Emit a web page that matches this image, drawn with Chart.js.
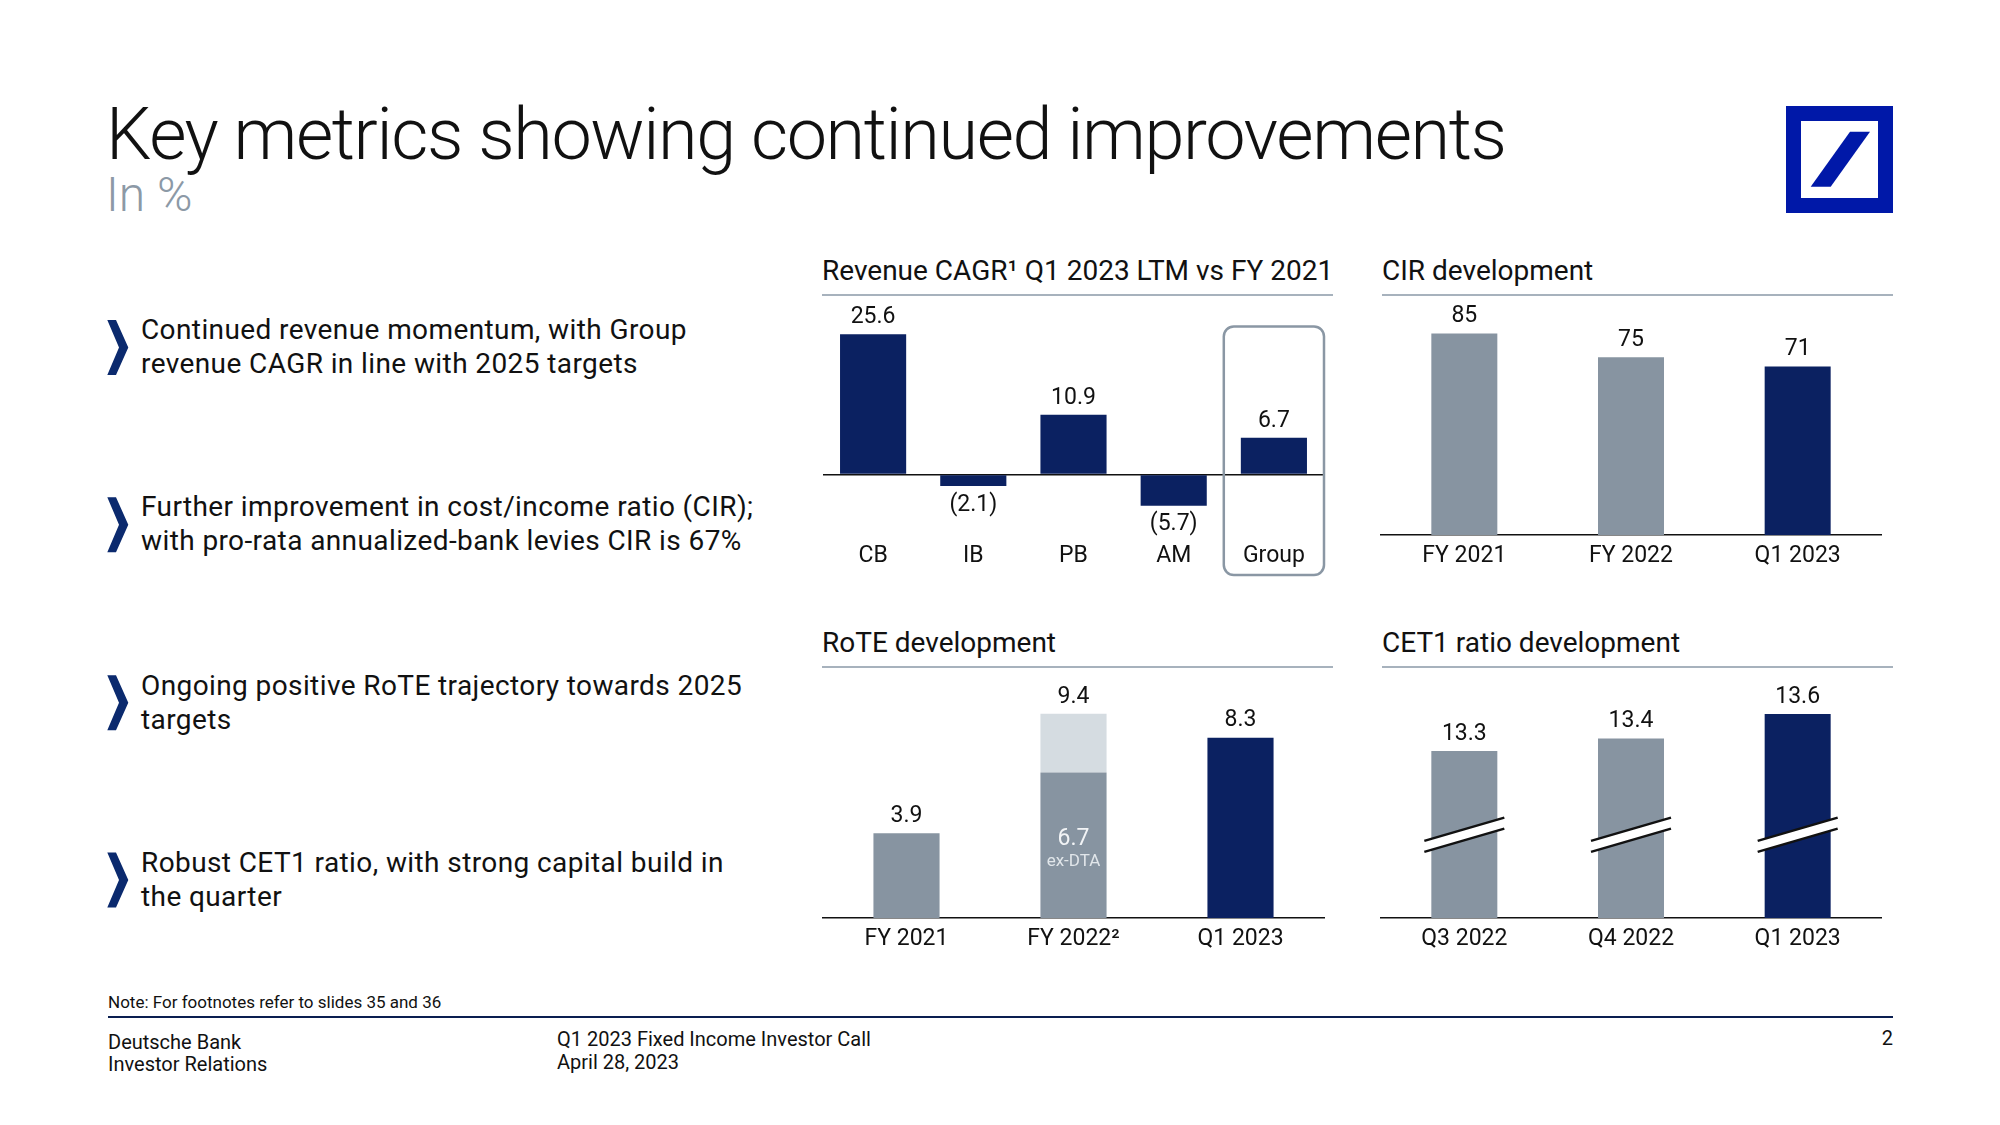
<!DOCTYPE html>
<html>
<head>
<meta charset="utf-8">
<script src="https://cdn.jsdelivr.net/npm/chart.js@4.4.0/dist/chart.umd.min.js"></script>
<style>
  body { margin: 0; background: #fff; }
  #page { position: relative; width: 2000px; height: 1125px; overflow: hidden; font-family: Roboto, "Noto Sans", sans-serif; color: #111; }
  .t { position: absolute; white-space: nowrap; }
  .bullet { font-size: 28px; line-height: 34.4px; letter-spacing: 0.4px; }
  .ctitle { font-size: 28px; line-height: 28px; }
  .rule { position: absolute; height: 2px; background: #a7b2bd; }
  .foot { font-size: 20px; line-height: 20px; }
  canvas { position: absolute; }
</style>
</head>
<body>
<div id="page">
  <div class="t" style="left:106px;top:99px;font-size:72px;line-height:72px;font-weight:300;letter-spacing:-1.4px">Key metrics showing continued improvements</div>
  <div class="t" style="left:106px;top:171px;font-size:48px;line-height:48px;font-weight:300;color:#8c99a6">In %</div>

  <div style="position:absolute;left:1786px;top:106px;width:107px;height:107px;box-sizing:border-box;border:15px solid #0018a8"></div>

  <svg style="position:absolute;left:0;top:0" width="2000" height="1125">
    <polygon points="1850,131.7 1870,131.7 1830.7,186.7 1810.7,186.7" fill="#0018a8"/>
    <g fill="#0b2a6e">
      <polygon transform="translate(0,0)" points="107.3,320 116,320 128.3,347.6 116,375 107.3,375 119,347.6"/>
      <polygon transform="translate(0,177.2)" points="107.3,320 116,320 128.3,347.6 116,375 107.3,375 119,347.6"/>
      <polygon transform="translate(0,355.2)" points="107.3,320 116,320 128.3,347.6 116,375 107.3,375 119,347.6"/>
      <polygon transform="translate(0,532.5)" points="107.3,320 116,320 128.3,347.6 116,375 107.3,375 119,347.6"/>
    </g>
  </svg>

  <div class="t bullet" style="left:141px;top:313px">Continued revenue momentum, with Group<br>revenue CAGR in line with 2025 targets</div>
  <div class="t bullet" style="left:141px;top:490px">Further improvement in cost/income ratio (CIR);<br>with pro-rata annualized-bank levies CIR is 67%</div>
  <div class="t bullet" style="left:141px;top:669px">Ongoing positive RoTE trajectory towards 2025<br>targets</div>
  <div class="t bullet" style="left:141px;top:846px">Robust CET1 ratio, with strong capital build in<br>the quarter</div>

  <div class="t ctitle" style="left:822px;top:257px">Revenue CAGR¹ Q1 2023 LTM vs FY 2021</div>
  <div class="rule" style="left:822px;top:294px;width:511px"></div>
  <div class="t ctitle" style="left:1382px;top:257px">CIR development</div>
  <div class="rule" style="left:1382px;top:294px;width:511px"></div>
  <div class="t ctitle" style="left:822px;top:629px">RoTE development</div>
  <div class="rule" style="left:822px;top:666px;width:511px"></div>
  <div class="t ctitle" style="left:1382px;top:629px">CET1 ratio development</div>
  <div class="rule" style="left:1382px;top:666px;width:511px"></div>

  <canvas id="revenue" width="509" height="293" style="left:818.7px;top:292px"></canvas>
  <canvas id="cir" width="508" height="293" style="left:1377.4px;top:292px"></canvas>
  <canvas id="rote" width="509" height="292" style="left:818.7px;top:676px"></canvas>
  <canvas id="cet1" width="508" height="292" style="left:1377.4px;top:676px"></canvas>

  <div class="t" style="left:108px;top:994px;font-size:17px;line-height:17px">Note: For footnotes refer to slides 35 and 36</div>
  <div style="position:absolute;left:108px;top:1016px;width:1785px;height:2px;background:#0a1e50"></div>
  <div class="t foot" style="left:108px;top:1032px">Deutsche Bank</div>
  <div class="t foot" style="left:108px;top:1054px">Investor Relations</div>
  <div class="t foot" style="left:557px;top:1029px">Q1 2023 Fixed Income Investor Call</div>
  <div class="t foot" style="left:557px;top:1052px">April 28, 2023</div>
  <div class="t foot" style="right:107px;top:1028px">2</div>
</div>

<script>
// chart data
const revenueCategories = ['CB', 'IB', 'PB', 'AM', 'Group'];
const revenueCagr = [25.6, -2.1, 10.9, -5.7, 6.7];

const cirCategories = ['FY 2021', 'FY 2022', 'Q1 2023'];
const cirValues = [85, 75, 71];

const roteCategories = ['FY 2021', 'FY 2022²', 'Q1 2023'];
const roteExDta = [3.9, 6.7, 8.3];
const roteReported = [3.9, 9.4, 8.3];

const cet1Categories = ['Q3 2022', 'Q4 2022', 'Q1 2023'];
const cet1Values = [13.3, 13.4, 13.6];

const NAVY = '#0b2161';
const GREY = '#8794a1';
const LIGHT = '#d5dce1';
const INK = '#111111';
const FONT = 'Roboto, "Noto Sans", sans-serif';

Chart.defaults.font.family = FONT;
Chart.defaults.color = INK;

// grey for history, navy for the latest period
const periodColors = (n) => Array.from({ length: n }, (_, i) => (i === n - 1 ? NAVY : GREY));

const valueLabels = (values, fmt) => ({
  id: 'valueLabels',
  afterDatasetsDraw(chart) {
    const { ctx } = chart;
    const y = chart.scales.y;
    const meta = chart.getDatasetMeta(0);
    ctx.save();
    ctx.font = '23px ' + FONT;
    ctx.fillStyle = INK;
    ctx.textAlign = 'center';
    ctx.textBaseline = 'middle';
    values.forEach((v, i) => {
      const px = y.getPixelForValue(v);
      ctx.fillText(fmt(v), meta.data[i].x, v >= 0 ? px - 17 : px + 19);
    });
    ctx.restore();
  }
});

function barChart(id, labels, datasets, yMin, yMax, plugins, zeroLine) {
  return new Chart(document.getElementById(id), {
    type: 'bar',
    data: { labels, datasets },
    options: {
      responsive: false,
      animation: false,
      devicePixelRatio: 1,
      layout: { padding: { top: 12, left: 4, right: 4, bottom: 0 } },
      plugins: { legend: { display: false }, tooltip: { enabled: false } },
      scales: {
        x: {
          stacked: true,
          grid: { display: false, drawTicks: false },
          border: { display: !zeroLine, color: INK, width: 1.5 },
          ticks: { font: { size: 23 }, color: INK, padding: 7, maxRotation: 0 },
          afterFit: (s) => { s.height = 50; }
        },
        y: {
          stacked: true,
          min: yMin,
          max: yMax,
          ticks: { display: false },
          border: { display: false },
          grid: { display: !!zeroLine, drawTicks: false, color: INK, lineWidth: 1.5 },
          afterBuildTicks: (s) => { s.ticks = [{ value: 0 }]; },
          afterFit: (s) => { s.width = 0; }
        }
      }
    },
    plugins
  });
}

const barStyle = (pct) => ({ barPercentage: pct, categoryPercentage: 1, borderWidth: 0 });

// Revenue CAGR
const groupBox = {
  id: 'groupBox',
  afterDatasetsDraw(chart) {
    const { ctx, chartArea } = chart;
    const x = chart.scales.x, y = chart.scales.y;
    const i = revenueCategories.indexOf('Group');
    const half = (x.getPixelForValue(1) - x.getPixelForValue(0)) / 2;
    const top = y.getPixelForValue(27);
    ctx.save();
    ctx.strokeStyle = '#8a97a4';
    ctx.lineWidth = 2.5;
    ctx.beginPath();
    ctx.roundRect(x.getPixelForValue(i) - half, top, half * 2, chartArea.bottom + 40 - top, 10);
    ctx.stroke();
    ctx.restore();
  }
};
barChart('revenue', revenueCategories,
  [{ data: revenueCagr, backgroundColor: NAVY, ...barStyle(0.66) }],
  -11.04, 31.11,
  [valueLabels(revenueCagr, (v) => (v < 0 ? '(' + (-v).toFixed(1) + ')' : v.toFixed(1))), groupBox],
  true);

// CIR
barChart('cir', cirCategories,
  [{ data: cirValues, backgroundColor: periodColors(cirValues.length), ...barStyle(0.396) }],
  0, 97.4,
  [valueLabels(cirValues, (v) => String(v))]);

// RoTE
const exDtaLabel = {
  id: 'exDtaLabel',
  afterDatasetsDraw(chart) {
    const { ctx } = chart;
    const bar = chart.getDatasetMeta(0).data[1];
    const mid = (bar.y + bar.base) / 2;
    ctx.save();
    ctx.textAlign = 'center';
    ctx.textBaseline = 'middle';
    ctx.fillStyle = '#f2f4f6';
    ctx.font = '23px ' + FONT;
    ctx.fillText(roteExDta[1].toFixed(1), bar.x, mid - 6);
    ctx.fillStyle = '#e1e6ea';
    ctx.font = '17px ' + FONT;
    ctx.fillText('ex-DTA', bar.x, mid + 17);
    ctx.restore();
  }
};
barChart('rote', roteCategories,
  [
    { data: roteExDta, backgroundColor: periodColors(roteExDta.length), ...barStyle(0.396) },
    { data: roteReported.map((v, i) => +(v - roteExDta[i]).toFixed(1)), backgroundColor: LIGHT, ...barStyle(0.396) }
  ],
  0, 10.59,
  [valueLabels(roteReported, (v) => v.toFixed(1)), exDtaLabel]);

// CET1 with broken axis
const axisBreak = {
  id: 'axisBreak',
  afterDatasetsDraw(chart) {
    const { ctx } = chart;
    const cy = chart.scales.y.getPixelForValue(12.62);
    const gap = 11, slope = 0.29;
    ctx.save();
    chart.getDatasetMeta(0).data.forEach((bar) => {
      const hw = bar.width / 2 + 7;
      const dy = slope * hw;
      const x0 = bar.x - hw, x1 = bar.x + hw;
      ctx.fillStyle = '#fff';
      ctx.beginPath();
      ctx.moveTo(x0, cy + dy - gap / 2);
      ctx.lineTo(x1, cy - dy - gap / 2);
      ctx.lineTo(x1, cy - dy + gap / 2);
      ctx.lineTo(x0, cy + dy + gap / 2);
      ctx.closePath();
      ctx.fill();
      ctx.strokeStyle = INK;
      ctx.lineWidth = 2.5;
      ctx.beginPath();
      ctx.moveTo(x0, cy + dy - gap / 2);
      ctx.lineTo(x1, cy - dy - gap / 2);
      ctx.moveTo(x0, cy + dy + gap / 2);
      ctx.lineTo(x1, cy - dy + gap / 2);
      ctx.stroke();
    });
    ctx.restore();
  }
};
barChart('cet1', cet1Categories,
  [{ data: cet1Values, backgroundColor: periodColors(cet1Values.length), ...barStyle(0.396) }],
  11.945, 13.81,
  [valueLabels(cet1Values, (v) => v.toFixed(1)), axisBreak]);
</script>
</body>
</html>
